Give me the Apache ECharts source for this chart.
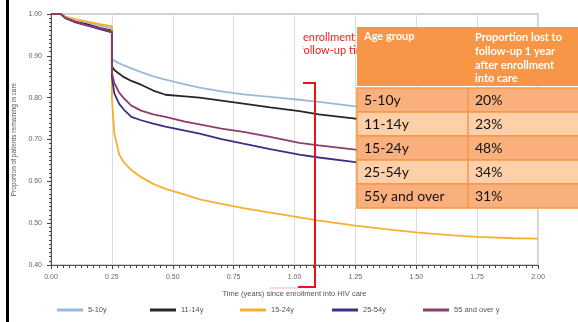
<!DOCTYPE html>
<html><head><meta charset="utf-8">
<script src="https://cdn.jsdelivr.net/npm/echarts@6/dist/echarts.min.js"></script>
<style>html,body{margin:0;padding:0;background:#fff}#c{width:578px;height:322px}</style>
</head><body><div id="c"></div>
<script>
// Time (years) since enrollment
const times = [0, 0.04, 0.06, 0.1, 0.15, 0.2, 0.25, 0.25, 0.26, 0.28, 0.3, 0.33, 0.37, 0.42, 0.47, 0.55, 0.61, 0.7, 0.79, 0.9, 1.02, 1.1, 1.25, 1.4, 1.5, 1.65, 1.75, 1.9, 2.0];
const age5to10 = [1.0,1.0,0.993,0.987,0.98,0.973,0.966, 0.893,0.888,0.882,0.877,0.870,0.861,0.851,0.843,0.832,0.824,0.815,0.808,0.802,0.795,0.79,0.779,0.772,0.767,0.761,0.757,0.752,0.749];
const age11to14 = [1.0,1.0,0.99,0.982,0.975,0.967,0.96, 0.875,0.866,0.857,0.849,0.840,0.831,0.817,0.807,0.803,0.800,0.793,0.786,0.777,0.768,0.76,0.75,0.743,0.739,0.733,0.729,0.724,0.721];
const age15to24 = [1.0,1.0,0.993,0.988,0.982,0.976,0.971, 0.80,0.715,0.664,0.645,0.627,0.610,0.594,0.582,0.568,0.557,0.546,0.536,0.525,0.514,0.506,0.494,0.484,0.478,0.471,0.467,0.464,0.463];
const age25to54 = [1.0,1.0,0.99,0.98,0.972,0.964,0.956, 0.85,0.81,0.785,0.771,0.754,0.746,0.738,0.731,0.721,0.714,0.701,0.690,0.677,0.664,0.657,0.646,0.637,0.632,0.625,0.621,0.616,0.613];
const age55plus = [1.0,1.0,0.99,0.981,0.973,0.966,0.958, 0.86,0.835,0.812,0.798,0.781,0.769,0.760,0.754,0.743,0.736,0.726,0.718,0.706,0.692,0.686,0.676,0.667,0.662,0.655,0.651,0.645,0.642];
const seriesNames = ['5-10y', '11-14y', '15-24y', '25-54y', '55 and over y'];
const seriesValues = [age5to10, age11to14, age15to24, age25to54, age55plus];
const seriesColors = ['#9bb8dd', '#262626', '#f7b031', '#3b2f86', '#8c3d6c'];
const xAxisTitle = 'Time (years) since enrollment into HIV care';
const yAxisTitle = 'Proportion of patients remaining in care';
const tableHeader = ['Age group', 'Proportion lost to\nfollow-up 1 year\nafter enrollment\ninto care'];
const tableGroups = ['5-10y', '11-14y', '15-24y', '25-54y', '55y and over'];
const tableLost = ['20%', '23%', '48%', '34%', '31%'];
const noteLines = ['enrollment', 'follow-up tim'];

const chart = echarts.init(document.getElementById('c'), null, {renderer: 'canvas'});
const font = 'Liberation Sans, Arial, sans-serif';
const tFont = 'Lato, "Open Sans", sans-serif';
const legendLefts = [57, 150, 240, 332, 423];

const graphic = [
  {type: 'rect', z: 10, shape: {x: 6, y: 0, width: 3, height: 322}, style: {fill: '#000'}},
  // red note text
  {type: 'text', z: 10, x: 303, y: 37, style: {text: noteLines[0], fill: '#ff1a1a', font: '11px ' + tFont, verticalAlign: 'middle'}},
  {type: 'text', z: 10, x: 299.8, y: 50, style: {text: noteLines[1], fill: '#ff1a1a', font: '11px ' + tFont, verticalAlign: 'middle'}},
  {type: 'rect', z: 11, shape: {x: 297, y: 43, width: 5.8, height: 14}, style: {fill: '#fff'}},
  // red bracket
  {type: 'polyline', z: 10, shape: {points: [[303, 83], [315, 83], [315, 287], [298, 287]]}, style: {stroke: '#e8141b', lineWidth: 2, fill: null}},
  {type: 'line', z: 10, shape: {x1: 270, y1: 288, x2: 298, y2: 288}, style: {stroke: '#f6b3b3', lineWidth: 1}},
  // table header
  {type: 'rect', z: 20, shape: {x: 357, y: 27, width: 240, height: 59}, style: {fill: '#f79646'}},
  {type: 'text', z: 21, x: 364, y: 31, style: {text: tableHeader[0], fill: '#fff', font: 'bold 11px ' + tFont, verticalAlign: 'top'}},
  {type: 'text', z: 21, x: 475, y: 31, style: {text: tableHeader[1], fill: '#fff', font: 'bold 11px ' + tFont, verticalAlign: 'top', lineHeight: 13.7}}
];
tableGroups.forEach((g, i) => {
  const y = 88 + 24 * i;
  graphic.push({type: 'rect', z: 20, shape: {x: 357, y: y, width: 240, height: 24},
    style: {fill: i % 2 === 0 ? '#f9b07c' : '#fdd0aa', stroke: '#f79646', lineWidth: 1.5}});
  graphic.push({type: 'text', z: 21, x: 364, y: y + 12, style: {text: g, fill: '#111', font: '14px ' + tFont, verticalAlign: 'middle'}});
  graphic.push({type: 'text', z: 21, x: 475, y: y + 12, style: {text: tableLost[i], fill: '#111', font: '14px ' + tFont, verticalAlign: 'middle'}});
});
graphic.push({type: 'line', z: 21, shape: {x1: 468, y1: 88, x2: 468, y2: 208}, style: {stroke: '#f79646', lineWidth: 1.5}});

chart.setOption({
  animation: false,
  backgroundColor: '#fff',
  grid: {left: 51, right: 40, top: 14, bottom: 57, show: true, borderColor: '#c4c4c4', borderWidth: 1.5},
  xAxis: {
    type: 'value', min: 0, max: 2, interval: 0.25,
    name: xAxisTitle, nameLocation: 'middle', nameGap: 25,
    nameTextStyle: {fontSize: 7.5, color: '#555', fontFamily: font},
    axisLine: {lineStyle: {color: '#555', width: 1}},
    axisTick: {length: 4, lineStyle: {color: '#444'}},
    minorTick: {show: true, splitNumber: 10, length: 3, lineStyle: {color: '#444'}},
    splitLine: {show: true, lineStyle: {color: '#dcdcdc', width: 1}},
    axisLabel: {fontSize: 7, color: '#666', fontFamily: font, margin: 9, formatter: v => v.toFixed(2)}
  },
  yAxis: {
    type: 'value', min: 0.4, max: 1.0, interval: 0.1,
    name: yAxisTitle, nameLocation: 'middle', nameGap: 28,
    nameTextStyle: {fontSize: 6.5, color: '#555', fontFamily: font},
    axisLine: {show: true, lineStyle: {color: '#555', width: 1}},
    axisTick: {show: true, length: 4, lineStyle: {color: '#444'}},
    minorTick: {show: true, splitNumber: 10, length: 2, lineStyle: {color: '#444'}},
    splitLine: {show: false},
    axisLabel: {fontSize: 7, color: '#666', fontFamily: font, margin: 9, formatter: v => v.toFixed(2)}
  },
  legend: seriesNames.map((n, i) => ({
    left: legendLefts[i], top: 306, icon: 'rect', itemWidth: 26, itemHeight: 3, padding: 0,
    textStyle: {fontSize: 7.5, color: '#555', fontFamily: font},
    data: [n]
  })),
  series: seriesNames.map((n, i) => ({
    name: n, type: 'line', symbol: 'none', z: 2,
    lineStyle: {width: 1.8, color: seriesColors[i]}, itemStyle: {color: seriesColors[i]},
    data: times.map((t, j) => [t, seriesValues[i][j]])
  })),
  graphic: graphic
});
</script></body></html>
